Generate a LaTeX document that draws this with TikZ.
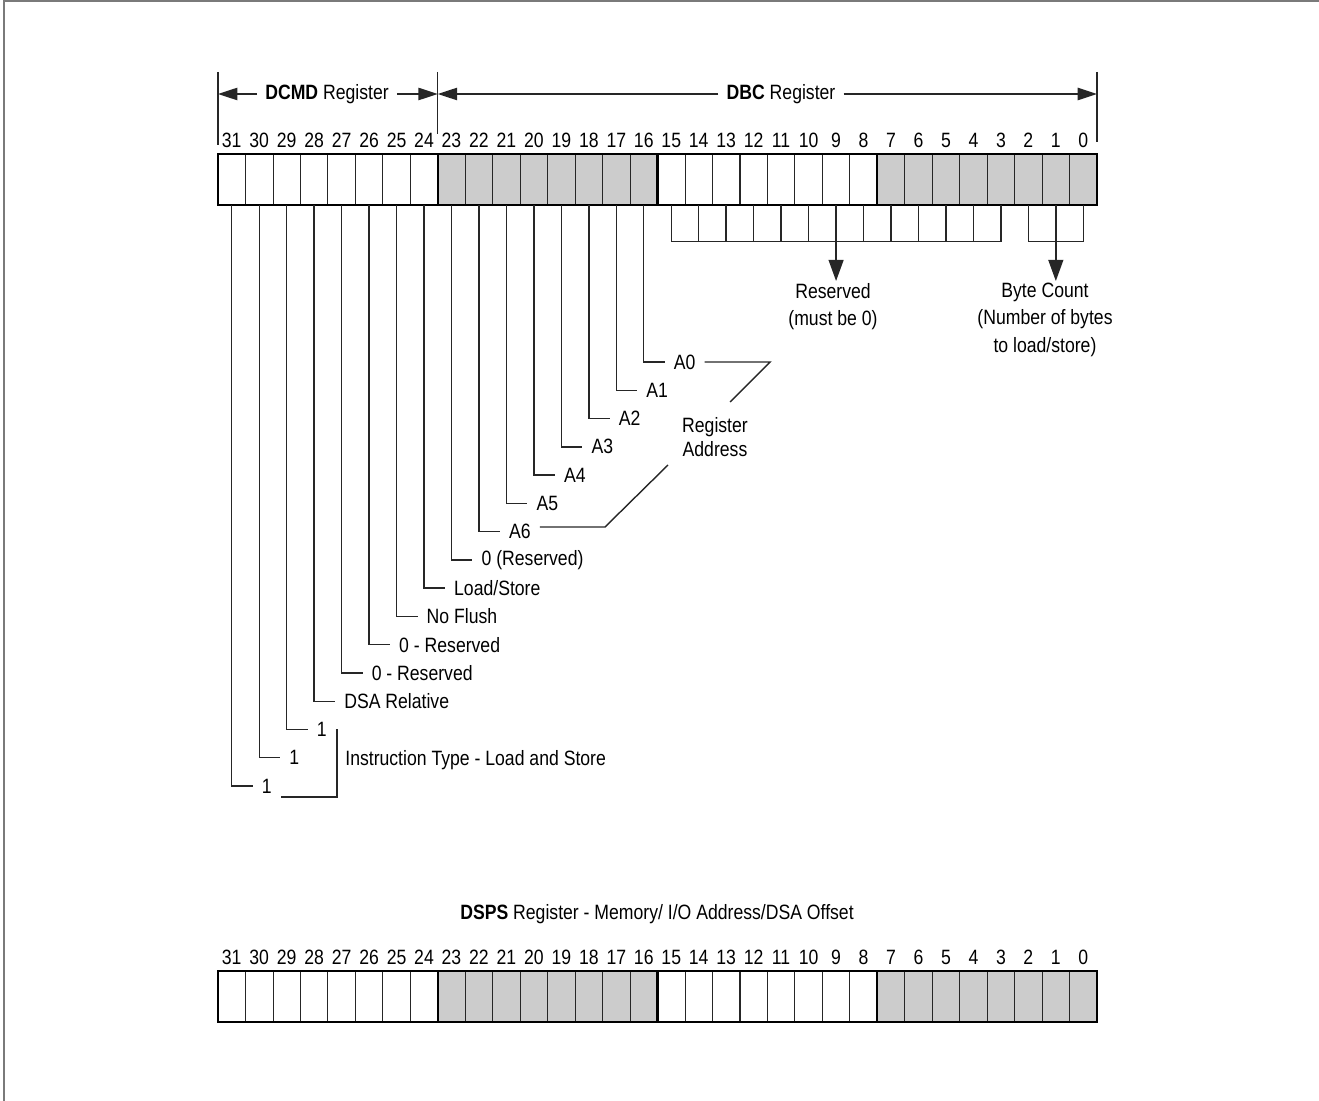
\documentclass[tikz,border=0pt]{standalone}
\usepackage{fontspec}
\setmainfont{Liberation Sans}[FakeStretch=0.85]
\usepackage{tikz}
\usetikzlibrary{arrows.meta,positioning}

\definecolor{bitgray}{HTML}{CCCCCC}
\definecolor{framegray}{HTML}{7A7A7A}
\def\cw{27.47}

\tikzset{
  every node/.style={font=\fontsize{11.8}{15.5}\selectfont},
  bitcell/.style={draw=black!85, line width=0.5pt, minimum width=0.5494cm, minimum height=1.02cm, inner sep=0pt, outer sep=0pt},
  grpline/.style={draw=black, line width=1.3pt},
  bitnum/.style={inner sep=0pt, anchor=base},
  conn/.style={draw=black!85, line width=0.8pt},
  dimarrow/.style={conn, -{Triangle[length=11pt,width=7pt]}},
  downarrow/.style={conn, -{Triangle[length=12pt,width=8.5pt]}},
  dimlbl/.style={inner sep=4.5pt},
  fieldlbl/.style={anchor=west, inner sep=5pt},
  notelbl/.style={align=center, inner sep=1pt, anchor=north},
  frameline/.style={draw=framegray, line width=1.2pt}
}

\begin{document}
\begin{tikzpicture}[x=0.02cm,y=-0.02cm]
\useasboundingbox (0,0) rectangle (1319,1101);
\draw[frameline] (4,1101) -- (4,1) -- (1319,1);

% DCMD + DBC register
\foreach \b in {8,9,10,11,12,13,14,15,24,25,26,27,28,29,30,31}
  \node[bitcell] (c\b) at ({218+(31.5-\b)*\cw},179.5) {};
\foreach \b in {0,1,2,3,4,5,6,7,16,17,18,19,20,21,22,23}
  \node[bitcell,fill=bitgray] (c\b) at ({218+(31.5-\b)*\cw},179.5) {};
\foreach \hi/\lo in {31/24,23/16,15/8,7/0}
  \draw[grpline] (c\hi.north west) rectangle (c\lo.south east);
\foreach \b in {0,...,31}
  \node[bitnum] (n\b) at ([yshift=3.5pt]c\b.north) {\b};

% register extents
\node[dimlbl] (dcmd) at (327,94) {\textbf{DCMD} Register};
\node[dimlbl] (dbc) at (781,94) {\textbf{DBC} Register};
\draw[conn] (c31.west |- 0,72) -- (c31.west |- 0,145);
\draw[conn] (c24.east |- 0,72) -- (c24.east |- 0,134);
\draw[conn] (c0.east |- 0,72) -- (c0.east |- 0,142);
\draw[dimarrow] (dcmd.west) -- (dcmd.west -| c31.west);
\draw[dimarrow] (dcmd.east) -- (dcmd.east -| c24.east);
\draw[dimarrow] (dbc.west) -- (dbc.west -| c23.west);
\draw[dimarrow] (dbc.east) -- (dbc.east -| c0.east);

% command bits
\foreach \b/\txt in {31/1,30/1,29/1,28/DSA Relative,27/0 - Reserved,26/0 - Reserved,25/No Flush,24/{Load/Store},23/0 (Reserved),22/A6,21/A5,20/A4,19/A3,18/A2,17/A1,16/A0}{
  \node[fieldlbl] (f\b) at ({218+(31.5-\b)*\cw+21},{362+(\b-16)*28.27}) {\txt};
  \draw[conn] (c\b.south) |- (f\b.west);
}
\node[anchor=west, inner sep=0pt] (itype) at (345,760) {Instruction Type - Load and Store};
\draw[conn] (f29.east) -- (f29.east -| 337,0) -- (337,797) -- (f31.east |- 0,797);

\node[align=center, font=\fontsize{11.8}{13.6}\selectfont] (regaddr) at (715,437) {Register\\Address};
\draw[conn] (f16.east) -- (f16.east -| 770,0) -- (730,402);
\draw[conn] (f22.east |- 0,527) -- (605,527) -- (668,465);

% byte count and reserved
\coordinate (rsvbar) at (c9.south |- 0,241.7);
\coordinate (cntbar) at (c1.south |- 0,241.7);
\foreach \b in {0,...,15}
  \draw[conn] (c\b.south) -- (c\b.south |- rsvbar);
\draw[conn] (c15.south |- rsvbar) -- (c3.south |- rsvbar);
\draw[conn] (c2.south |- cntbar) -- (c0.south |- cntbar);
\node[notelbl] (resv) at (833,281) {Reserved\\(must be 0)};
\node[notelbl] (bcnt) at (1045,281) {Byte Count\\(Number of bytes\\to load/store)};
\draw[downarrow] (rsvbar) -- (rsvbar |- resv.north);
\draw[downarrow] (cntbar) -- (cntbar |- bcnt.north);

% DSPS register
\node[dimlbl] (dsps) at (657,914) {\textbf{DSPS} Register - Memory/ I/O Address/DSA Offset};
\foreach \b in {8,9,10,11,12,13,14,15,24,25,26,27,28,29,30,31}
  \node[bitcell] (d\b) at ({218+(31.5-\b)*\cw},996.2) {};
\foreach \b in {0,1,2,3,4,5,6,7,16,17,18,19,20,21,22,23}
  \node[bitcell,fill=bitgray] (d\b) at ({218+(31.5-\b)*\cw},996.2) {};
\foreach \hi/\lo in {31/24,23/16,15/8,7/0}
  \draw[grpline] (d\hi.north west) rectangle (d\lo.south east);
\foreach \b in {0,...,31}
  \node[bitnum] (m\b) at ([yshift=3.5pt]d\b.north) {\b};
\end{tikzpicture}
\end{document}
